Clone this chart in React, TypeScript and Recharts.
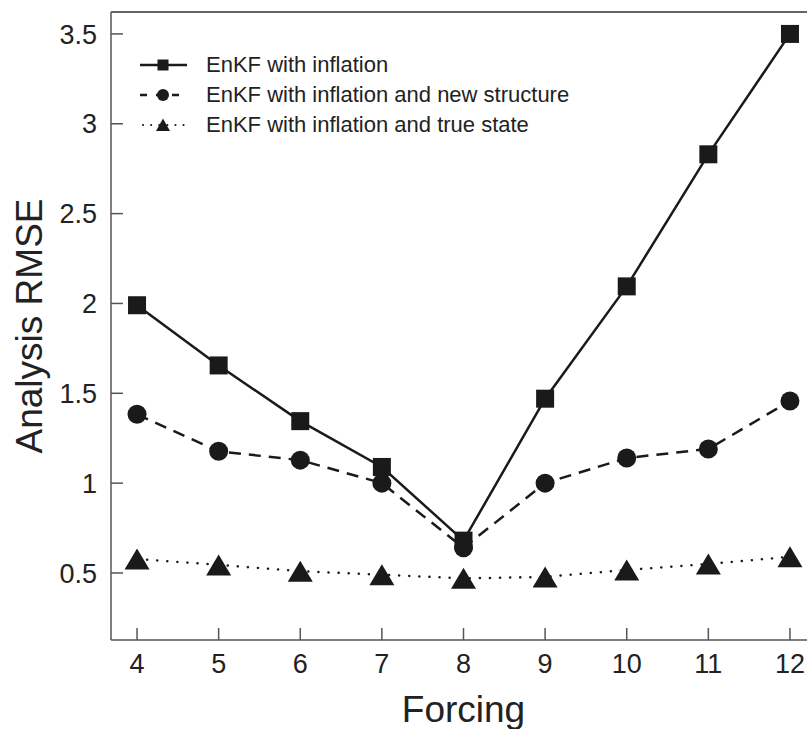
import React from 'react';
import { LineChart, Line, XAxis, YAxis, Legend, ReferenceLine } from 'recharts';

const forcing = [4, 5, 6, 7, 8, 9, 10, 11, 12];
const enkfInflation = [1.99, 1.655, 1.345, 1.09, 0.68, 1.47, 2.095, 2.83, 3.5];
const enkfNewStructure = [1.383, 1.177, 1.128, 1.0, 0.64, 1.0, 1.14, 1.19, 1.457];
const enkfTrueState = [0.578, 0.545, 0.51, 0.49, 0.47, 0.478, 0.517, 0.55, 0.59];
const xTicks = [4, 5, 6, 7, 8, 9, 10, 11, 12];
const yTicks = [0.5, 1, 1.5, 2, 2.5, 3, 3.5];
const seriesNames = [
  'EnKF with inflation',
  'EnKF with inflation and new structure',
  'EnKF with inflation and true state',
];
const xDomain = [3.681, 12.319];
const yDomain = [0.127, 3.622];

const data = forcing.map((f, i) => ({
  f,
  a: enkfInflation[i],
  b: enkfNewStructure[i],
  c: enkfTrueState[i],
}));

const INK = '#1a1a1a';
const FONT = '"Liberation Sans", Arial, Helvetica, sans-serif';

const SquareDot = (props: any) => {
  const { cx, cy, index } = props;
  if (cx == null || cy == null) return <g key={index} />;
  return <rect key={index} x={cx - 9} y={cy - 9} width={18} height={18} fill={INK} />;
};
const CircleDot = (props: any) => {
  const { cx, cy, index } = props;
  if (cx == null || cy == null) return <g key={index} />;
  return <circle key={index} cx={cx} cy={cy} r={9.5} fill={INK} />;
};
const TriangleDot = (props: any) => {
  const { cx, cy, index } = props;
  if (cx == null || cy == null) return <g key={index} />;
  return (
    <polygon
      key={index}
      points={`${cx - 12.5},${cy + 10.5} ${cx + 12.5},${cy + 10.5} ${cx},${cy - 10.5}`}
      fill={INK}
    />
  );
};

const LegendContent = () => {
  const rows = [
    { name: seriesNames[0], dash: undefined, cap: 'butt', marker: 'square' },
    { name: seriesNames[1], dash: '7 9', cap: 'butt', marker: 'circle' },
    { name: seriesNames[2], dash: '0.1 8', cap: 'round', marker: 'triangle' },
  ];
  return (
    <div style={{ fontFamily: FONT, fontSize: 22, color: '#222' }}>
      {rows.map((r, i) => (
        <div key={i} style={{ display: 'flex', alignItems: 'center', height: 30 }}>
          <svg width={66} height={30} style={{ display: 'block' }}>
            <line
              x1={r.marker === 'triangle' ? 3 : 0}
              y1={15}
              x2={47}
              y2={15}
              stroke={INK}
              strokeWidth={r.marker === 'triangle' ? 2 : 2.5}
              strokeDasharray={r.dash}
              strokeLinecap={r.cap as any}
            />
            {r.marker === 'square' && <rect x={17.5} y={9.5} width={11} height={11} fill={INK} />}
            {r.marker === 'circle' && <circle cx={23} cy={15} r={6} fill={INK} />}
            {r.marker === 'triangle' && (
              <polygon points="16,21 30,21 23,8.5" fill={INK} />
            )}
          </svg>
          <span style={{ whiteSpace: 'nowrap', lineHeight: '30px' }}>{r.name}</span>
        </div>
      ))}
    </div>
  );
};

const tickStyle = { fill: '#222', fontSize: 27, fontFamily: FONT };

export default function App() {
  return (
    <div
      style={{
        position: 'absolute',
        left: 0,
        top: 0,
        width: 807,
        height: 729,
        overflow: 'hidden',
        background: '#fff',
      }}
    >
      <LineChart
        width={830}
        height={729}
        data={data}
        margin={{ top: 12, right: 14, bottom: 0, left: 0 }}
      >
        <XAxis
          dataKey="f"
          type="number"
          domain={xDomain}
          ticks={xTicks}
          allowDataOverflow
          height={89}
          tickSize={-12}
          tickMargin={26}
          tick={tickStyle}
          axisLine={{ stroke: '#555', strokeWidth: 1.5 }}
          tickLine={{ stroke: '#555', strokeWidth: 1.5 }}
          label={{
            content: (p: any) => {
              const vb = p.viewBox || {};
              return (
                <text
                  x={vb.x + vb.width / 2}
                  y={vb.y + 82}
                  textAnchor="middle"
                  fontSize={37}
                  fontFamily={FONT}
                  fill="#222"
                >
                  Forcing
                </text>
              );
            },
          }}
        />
        <YAxis
          type="number"
          domain={yDomain}
          ticks={yTicks}
          allowDataOverflow
          width={111}
          tickSize={-12}
          tickMargin={26}
          tick={tickStyle}
          axisLine={{ stroke: '#555', strokeWidth: 1.5 }}
          tickLine={{ stroke: '#555', strokeWidth: 1.5 }}
          label={{
            content: (p: any) => {
              const vb = p.viewBox || {};
              const cx = vb.x + 42;
              const cy = vb.y + vb.height / 2;
              return (
                <text
                  x={cx}
                  y={cy}
                  transform={`rotate(-90 ${cx} ${cy})`}
                  textAnchor="middle"
                  fontSize={37}
                  fontFamily={FONT}
                  fill="#222"
                >
                  Analysis RMSE
                </text>
              );
            },
          }}
        />
        <ReferenceLine y={yDomain[1]} stroke="#333" strokeWidth={1.5} />
        <Legend
          layout="vertical"
          align="center"
          verticalAlign="middle"
          content={<LegendContent />}
          wrapperStyle={{ position: 'absolute', left: 140, top: 50, width: 500, height: 90 }}
        />
        <Line
          dataKey="c"
          stroke={INK}
          strokeWidth={2.5}
          strokeDasharray="0.1 10"
          strokeLinecap="round"
          dot={<TriangleDot />}
          isAnimationActive={false}
        />
        <Line
          dataKey="b"
          stroke={INK}
          strokeWidth={2.5}
          strokeDasharray="12 8"
          dot={<CircleDot />}
          isAnimationActive={false}
        />
        <Line
          dataKey="a"
          stroke={INK}
          strokeWidth={2.5}
          dot={<SquareDot />}
          isAnimationActive={false}
        />
      </LineChart>
    </div>
  );
}
